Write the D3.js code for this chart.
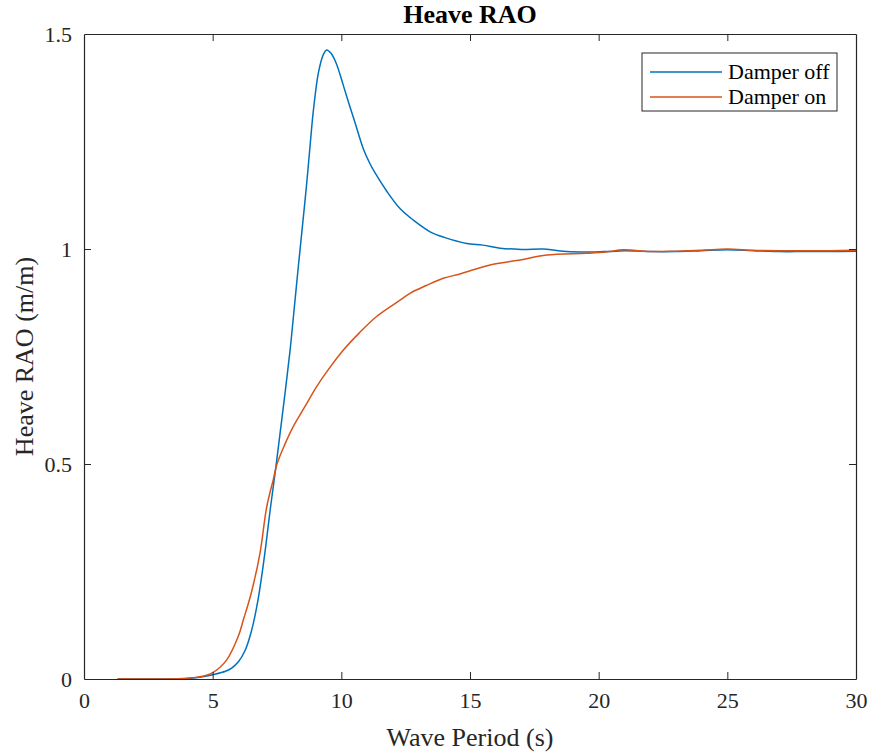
<!DOCTYPE html>
<html>
<head>
<meta charset="utf-8">
<script src="https://cdn.jsdelivr.net/npm/d3@7"></script>
<style>
  html, body { margin: 0; padding: 0; background: #fff; }
  svg { display: block; font-family: "Liberation Serif", "Times New Roman", serif; }
</style>
</head>
<body>
<svg id="chart" width="873" height="754"></svg>
<script>
// Wave period (s) and heave RAO (m/m) for each configuration
const periodOff = [1.3, 2, 3, 4, 4.5, 5, 5.5, 5.75, 6.0, 6.25, 6.5, 6.75, 7.0, 7.25, 7.45, 7.7, 8.0, 8.15, 8.33, 8.5, 8.65, 8.8, 8.91, 9.11, 9.3, 9.43, 9.6, 9.8, 10.08, 10.3, 10.5, 10.86, 11.1, 11.3, 11.76, 12.28, 12.8, 13.45, 14.0, 14.87, 15.5, 16.17, 17.0, 17.85, 18.3, 18.76, 19.5, 20.2, 20.7, 21.0, 22.0, 23.0, 24.0, 25.0, 26.0, 27.0, 28.0, 29.0, 30.0];
const raoOff    = [0, 0, 0, 0.001, 0.004, 0.01, 0.018, 0.026, 0.04, 0.065, 0.11, 0.18, 0.28, 0.40, 0.49, 0.61, 0.76, 0.85, 0.96, 1.06, 1.15, 1.25, 1.32, 1.41, 1.452, 1.463, 1.455, 1.432, 1.38, 1.337, 1.30, 1.232, 1.2, 1.178, 1.135, 1.094, 1.067, 1.04, 1.027, 1.013, 1.009, 1.002, 0.999, 1.0, 0.997, 0.994, 0.993, 0.994, 0.995, 0.996, 0.994, 0.994, 0.996, 0.998, 0.996, 0.994, 0.994, 0.994, 0.995];

const periodOn = [1.3, 2, 3, 3.8, 4.5, 5, 5.54, 6.0, 6.19, 6.5, 6.84, 7.1, 7.36, 7.5, 7.8, 8.13, 8.6, 9.04, 9.5, 10.08, 10.7, 11.37, 12.28, 12.67, 13.3, 13.96, 14.61, 15.2, 15.78, 17.0, 17.98, 19.53, 20.3, 20.96, 22.0, 23.0, 24.0, 25.0, 26.0, 27.0, 28.0, 29.0, 30.0];
const raoOn    = [0, 0, 0, 0.001, 0.005, 0.015, 0.044, 0.1, 0.137, 0.2, 0.293, 0.4, 0.465, 0.5, 0.545, 0.587, 0.635, 0.68, 0.72, 0.765, 0.805, 0.843, 0.881, 0.897, 0.915, 0.932, 0.942, 0.953, 0.963, 0.975, 0.986, 0.99, 0.993, 0.998, 0.994, 0.995, 0.997, 1.0, 0.997, 0.996, 0.996, 0.996, 0.997];

const seriesNames = ["Damper off", "Damper on"];
const seriesColors = ["#0072BD", "#D95319"];
const xTicks = [0, 5, 10, 15, 20, 25, 30];
const yTicks = [0, 0.5, 1, 1.5];

const svg = d3.select("#chart");
const W = 873, H = 754;
const m = { left: 84, right: 17, top: 34, bottom: 75 };
const axisColor = "#262626";
const serif = "Liberation Serif, Times New Roman, serif";

const x = d3.scaleLinear().domain([0, 30]).range([m.left, W - m.right]);
const y = d3.scaleLinear().domain([0, 1.5]).range([H - m.bottom, m.top]);

const series = [
  periodOff.map((p, i) => [p, raoOff[i]]),
  periodOn.map((p, i) => [p, raoOn[i]])
];

// curves, clipped to the axes box
svg.append("clipPath").attr("id", "plotClip")
  .append("rect").attr("x", m.left).attr("y", m.top)
  .attr("width", W - m.left - m.right).attr("height", H - m.top - m.bottom);

const line = d3.line().x(d => x(d[0])).y(d => y(d[1])).curve(d3.curveCatmullRom.alpha(0.5));
svg.append("g").attr("clip-path", "url(#plotClip)")
  .selectAll("path").data(series).join("path")
  .attr("d", line)
  .attr("fill", "none")
  .attr("stroke", (d, i) => seriesColors[i])
  .attr("stroke-width", 1.5);

// axes: ticks point inward on all four sides
const tl = 7;
const axBottom = svg.append("g").attr("transform", `translate(0,${H - m.bottom})`)
  .call(d3.axisBottom(x).tickValues(xTicks).tickSizeInner(-tl).tickSizeOuter(0).tickPadding(13));
const axTop = svg.append("g").attr("transform", `translate(0,${m.top})`)
  .call(d3.axisTop(x).tickValues(xTicks).tickSizeInner(-tl).tickSizeOuter(0).tickFormat(""));
const axLeft = svg.append("g").attr("transform", `translate(${m.left},0)`)
  .call(d3.axisLeft(y).tickValues(yTicks).tickSizeInner(-tl).tickSizeOuter(0).tickPadding(12).tickFormat(d3.format("")));
const axRight = svg.append("g").attr("transform", `translate(${W - m.right},0)`)
  .call(d3.axisRight(y).tickValues(yTicks).tickSizeInner(-tl).tickSizeOuter(0).tickFormat(""));

[axBottom, axTop, axLeft, axRight].forEach(g => {
  g.select(".domain").attr("stroke", axisColor).attr("stroke-width", 1.2);
  g.selectAll(".tick line").attr("stroke", axisColor).attr("stroke-width", 1);
  g.selectAll(".tick text").attr("fill", axisColor).attr("font-size", 22)
    .attr("font-family", serif);
});
axBottom.selectAll(".tick line").filter(d => d === 0 || d === 30).remove();
axTop.selectAll(".tick line").filter(d => d === 0 || d === 30).remove();
axLeft.selectAll(".tick line").filter(d => d === 0 || d === 1.5).remove();
axRight.selectAll(".tick line").filter(d => d === 0 || d === 1.5).remove();

// title and axis labels
svg.append("text").attr("x", (m.left + W - m.right) / 2).attr("y", 23)
  .attr("text-anchor", "middle").attr("font-size", 26).attr("font-weight", "bold")
  .attr("fill", "#000").text("Heave RAO");
svg.append("text").attr("x", (m.left + W - m.right) / 2).attr("y", 746)
  .attr("text-anchor", "middle").attr("font-size", 26).attr("fill", axisColor)
  .text("Wave Period (s)");
svg.append("text")
  .attr("transform", `translate(33,${(m.top + H - m.bottom) / 2}) rotate(-90)`)
  .attr("text-anchor", "middle").attr("font-size", 26).attr("fill", axisColor)
  .text("Heave RAO (m/m)");

// legend
const lg = svg.append("g").attr("transform", "translate(642,53)");
lg.append("rect").attr("width", 195).attr("height", 58)
  .attr("fill", "#fff").attr("stroke", axisColor).attr("stroke-width", 1);
seriesNames.forEach((name, i) => {
  const cy = 19 + i * 25;
  lg.append("line").attr("x1", 8).attr("x2", 80).attr("y1", cy).attr("y2", cy)
    .attr("stroke", seriesColors[i]).attr("stroke-width", 1.5);
  lg.append("text").attr("x", 86).attr("y", cy + 7).attr("font-size", 22)
    .attr("fill", "#000").text(name);
});
</script>
</body>
</html>
